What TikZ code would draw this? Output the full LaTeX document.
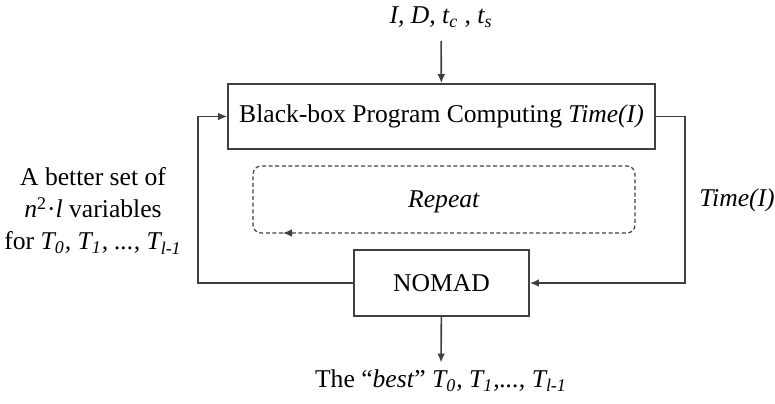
\documentclass[tikz,border=0pt]{standalone}
\usepackage{fontspec}
\setmainfont{Liberation Serif}
\usetikzlibrary{calc,arrows.meta}

\begin{document}
\begin{tikzpicture}[x=0.5pt,y=-0.5pt,line width=0.8pt,draw=black!75,
                    font=\fontsize{12.8}{16}\selectfont,
                    >={Latex[length=4.5pt,width=3.8pt]},
                    box/.style={draw,rectangle,inner sep=0pt}]
                                     \useasboundingbox (0,0) rectangle (775,403);
                                     % inputs and the two boxes
                                     \node(in)at(441,17){\textit{I, D, t\textsubscript{c} , t\textsubscript{s}}};
                                     \node[box,minimum width=213.5pt,minimum height=32.5pt](bb)at(441.5,116.5){Black-box Program Computing \textit{Time(I)}};
                                     \node[box,minimum width=87.5pt,minimum height=33pt](nomad)at(441.5,283){NOMAD};
                                     \node(best)at(441,381){The “\textit{best}” \textit{T\textsubscript{0}, T\textsubscript{1},..., T\textsubscript{l-1}}};
                                     % the loop
                                     \node(rep)at(444,202){\textit{Repeat}};
                                     \draw[line width=0.6pt,dash pattern=on 2pt off 1.3pt,rounded corners=4pt,->] (283,233) -- (253,233) -- (253,166) -- (635,166) -- (635,233) -- (283,233);
                                     \node[align=center](better)at(93,211){A better set of\\\textit{n}\textsuperscript{2}·\textit{l} variables\\for \textit{T\textsubscript{0}, T\textsubscript{1}, ..., T\textsubscript{l-1}}};
                                     \node(tm)at(737,200){\textit{Time(I)}};
                                     \draw[->,shorten <=3pt] (in) -- (bb);
                                     \draw[->] (bb.east) -- ++(29,0) |- (nomad.east);
                                     \draw[->] (nomad.west) -- ++(-155,0) |- (bb.west);
                                     \draw[->] (nomad) -- (best);
                                 \end{tikzpicture}
\end{document}
